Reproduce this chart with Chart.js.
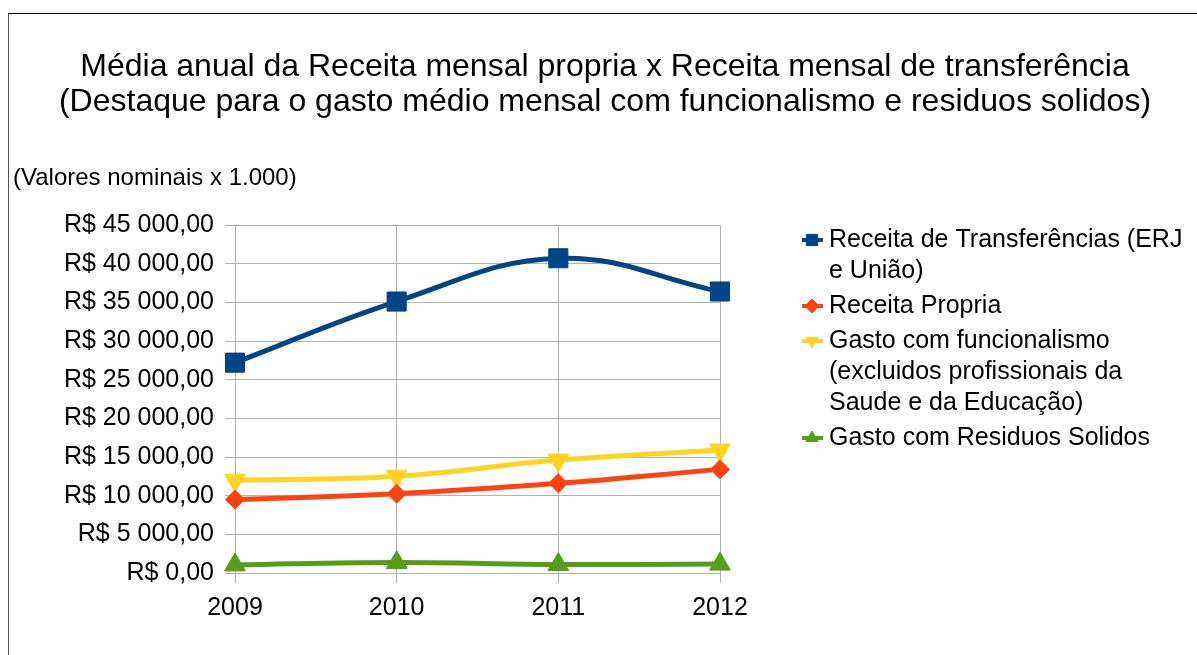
<!DOCTYPE html>
<html lang="pt">
<head>
    <meta charset="UTF-8">
    <title>Média anual da Receita mensal</title>
    <script src="https://cdn.jsdelivr.net/npm/chart.js"></script>
    <style>
        body { margin: 0; background: #fff; }
        #frame { position: absolute; left: 8px; top: 13px; right: -5px; bottom: -5px;
                 border-top: 1px solid #000; border-left: 1px solid #555; }
        #myChart { position: absolute; left: 0; top: 0; }
    </style>
</head>
<body>
    <div id="frame"></div>
    <canvas id="myChart" width="1197" height="655"></canvas>
<script>
    // dados (valores nominais x 1.000)
    const anos = ['2009', '2010', '2011', '2012'];
    const receitaTransf = [27200, 35100, 40700, 36400];
    const receitaPropria = [9500, 10250, 11600, 13400];
    const gastoFuncionalismo = [12000, 12500, 14600, 15900];
    const gastoResiduos = [1050, 1350, 1100, 1150];

    const nomes = [
        'Receita de Transferências (ERJ e União)',
        'Receita Propria',
        'Gasto com funcionalismo (excluidos profissionais da Saude e da Educação)',
        'Gasto com Residuos Solidos'
    ];
    // legenda quebrada em linhas como no original
    const legendaLinhas = [
        ['Receita de Transferências (ERJ', 'e União)'],
        ['Receita Propria'],
        ['Gasto com funcionalismo', '(excluidos profissionais da', 'Saude e da Educação)'],
        ['Gasto com Residuos Solidos']
    ];
    const tituloLinhas = [
        'Média anual da Receita mensal propria x Receita mensal de transferência',
        '(Destaque para o gasto médio mensal com funcionalismo e residuos solidos)'
    ];
    const subtitulo = '(Valores nominais x 1.000)';

    const cores = ['#004586', '#ff420e', '#ffd320', '#579d1c'];
    const FONTE = '"Liberation Sans", Arial, sans-serif';

    function moeda(v) {
        return 'R$ ' + v.toString().replace(/\B(?=(\d{3})+(?!\d))/g, ' ') + ',00';
    }

    // legenda desenhada no canvas, à direita
    const legendaPlugin = {
        id: 'legendaDireita',
        afterDraw(chart) {
            const ctx = chart.ctx;
            const sets = chart.data.datasets;
            let y = 240;
            ctx.save();
            ctx.font = '25px ' + FONTE;
            ctx.textBaseline = 'middle';
            ctx.fillStyle = '#000';
            sets.forEach((ds, i) => {
                ctx.strokeStyle = ds.borderColor;
                ctx.lineWidth = 4;
                ctx.beginPath();
                ctx.moveTo(802, y);
                ctx.lineTo(823, y);
                ctx.stroke();
                ctx.fillStyle = ds.borderColor;
                ctx.strokeStyle = ds.borderColor;
                ctx.lineWidth = 1;
                const r = ds.pointStyle === 'rect' ? 8 : 7;
                Chart.helpers.drawPoint(ctx, {
                    pointStyle: ds.pointStyle,
                    rotation: ds.pointRotation || 0,
                    radius: r,
                    borderWidth: 1
                }, 812, y);
                ctx.fillStyle = '#000';
                legendaLinhas[i].forEach((linha, k) => {
                    ctx.fillText(linha, 829, y + k * 31);
                });
                y += legendaLinhas[i].length * 31 + 4;
            });
            ctx.restore();
        }
    };

    const data = {
        labels: anos,
        datasets: [{
            label: nomes[0],
            data: receitaTransf,
            borderColor: cores[0],
            backgroundColor: cores[0],
            pointStyle: 'rect',
            pointRadius: 13.5
        }, {
            label: nomes[1],
            data: receitaPropria,
            borderColor: cores[1],
            backgroundColor: cores[1],
            pointStyle: 'rectRot',
            pointRadius: 9.5
        }, {
            label: nomes[2],
            data: gastoFuncionalismo,
            borderColor: cores[2],
            backgroundColor: cores[2],
            pointStyle: 'triangle',
            pointRotation: 180,
            pointRadius: 12
        }, {
            label: nomes[3],
            data: gastoResiduos,
            borderColor: cores[3],
            backgroundColor: cores[3],
            pointStyle: 'triangle',
            pointRadius: 12
        }]
    };

    const config = {
        type: 'line',
        data: data,
        options: {
            responsive: false,
            animation: false,
            layout: { padding: { left: 13, right: 0, top: 0, bottom: 0 } },
            elements: {
                line: { borderWidth: 5, tension: 0.4 },
                point: { borderWidth: 1, hoverRadius: 12 }
            },
            plugins: {
                legend: { display: false },
                tooltip: { enabled: false },
                title: {
                    display: true,
                    text: tituloLinhas,
                    color: '#000',
                    font: { family: FONTE, size: 32, weight: 'normal', lineHeight: 35 / 32 },
                    padding: { top: 49.5, bottom: 0 }
                },
                subtitle: {
                    display: true,
                    text: subtitulo,
                    align: 'start',
                    color: '#000',
                    font: { family: FONTE, size: 24, weight: 'normal', lineHeight: 1.15 },
                    padding: { top: 44.7, bottom: 33.2 }
                }
            },
            scales: {
                x: {
                    offset: false,
                    grid: { color: '#b3b3b3', tickLength: 10 },
                    border: { color: '#b3b3b3' },
                    ticks: { color: '#000', padding: 10, font: { family: FONTE, size: 25 } },
                    afterFit(s) { s.height = 82; }
                },
                y: {
                    min: 0,
                    max: 45000,
                    ticks: {
                        stepSize: 5000,
                        color: '#000',
                        padding: 11,
                        font: { family: FONTE, size: 25 },
                        callback: (v) => moeda(v)
                    },
                    grid: { color: '#b3b3b3', tickLength: 10 },
                    border: { color: '#b3b3b3' },
                    afterFit(s) { s.width = 222; }
                },
                espaco: {
                    position: 'right',
                    display: true,
                    min: 0,
                    max: 1,
                    grid: { display: false },
                    border: { display: false },
                    ticks: { display: false },
                    afterFit(s) { s.width = 477; }
                }
            }
        },
        plugins: [legendaPlugin]
    };

    const myChart = new Chart(document.querySelector('#myChart'), config);
</script>
</body>
</html>
